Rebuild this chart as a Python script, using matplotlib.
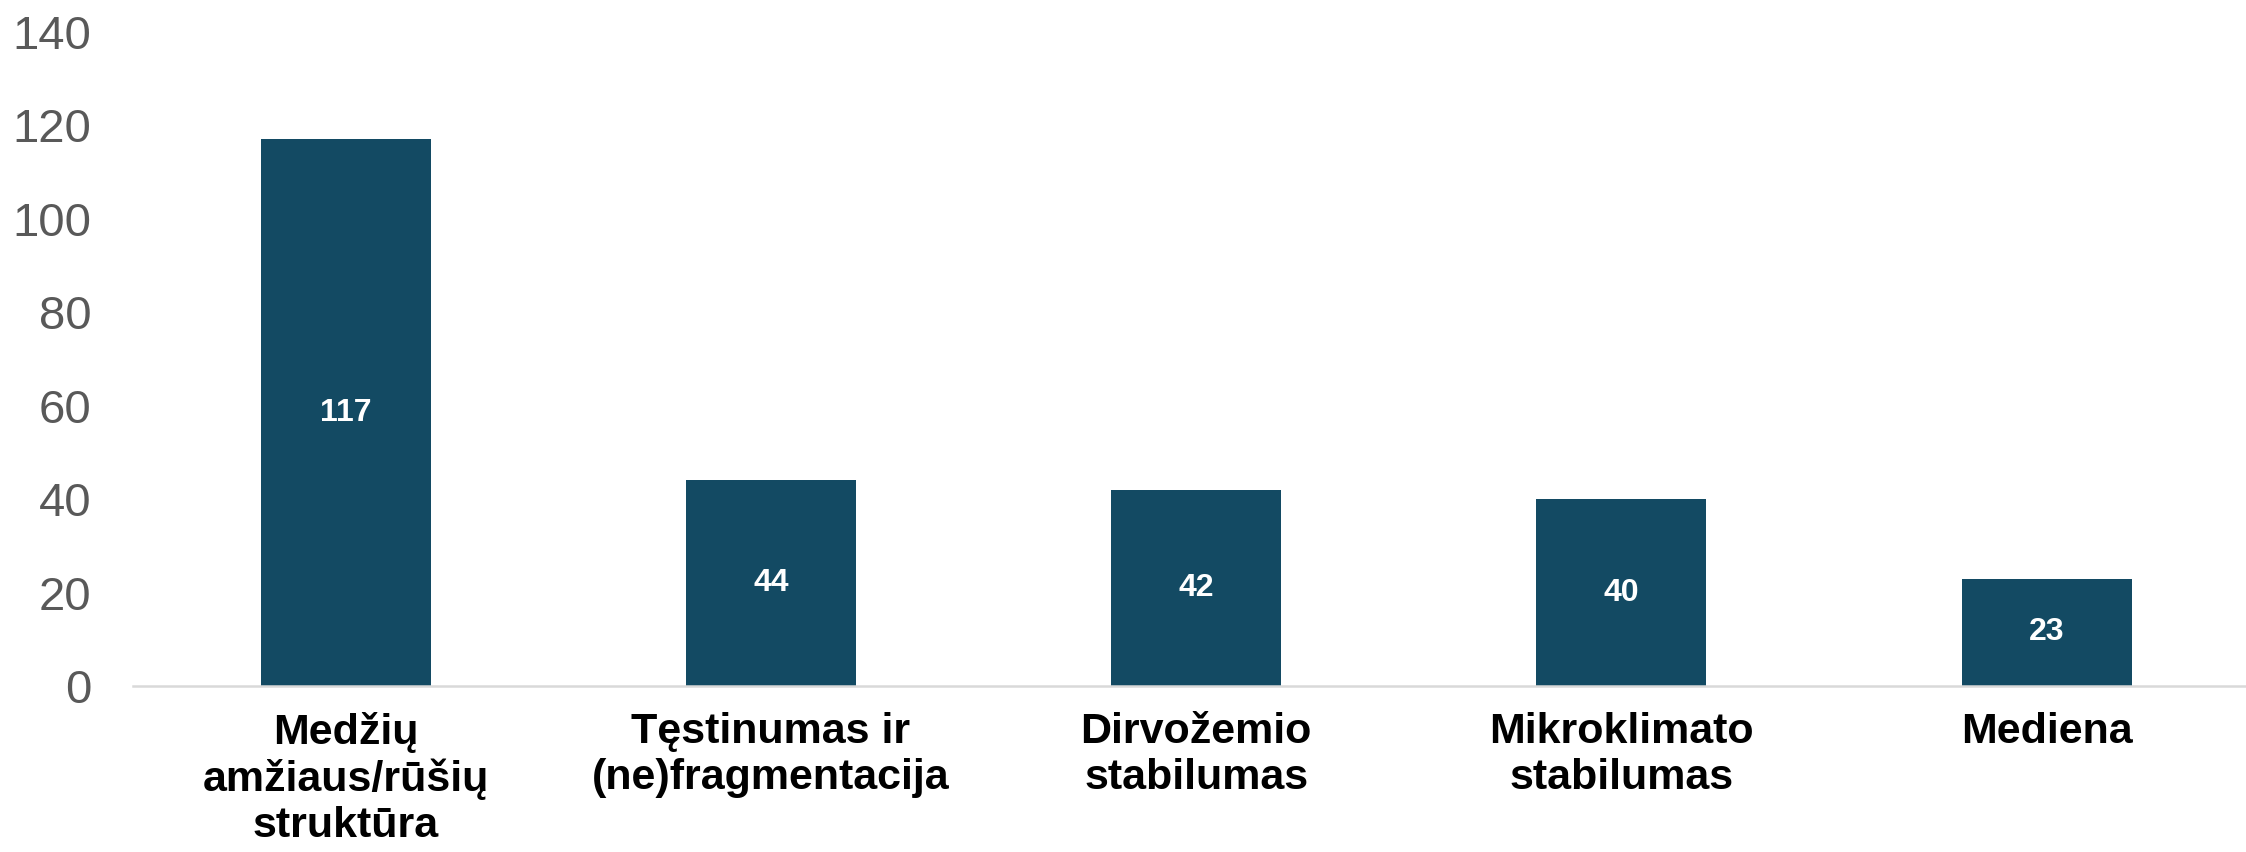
import matplotlib
matplotlib.use("Agg")
import matplotlib.pyplot as plt

categories = ["Medžių\namžiaus/rūšių\nstruktūra", "Tęstinumas ir\n(ne)fragmentacija",
              "Dirvožemio\nstabilumas", "Mikroklimato\nstabilumas", "Mediena"]
values = [117, 44, 42, 40, 23]
yticks = [0, 20, 40, 60, 80, 100, 120, 140]

plt.rcParams['font.family'] = ['Liberation Sans', 'DejaVu Sans']

fig = plt.figure(figsize=(22.46, 8.52), dpi=100)
ax = fig.add_axes([0.0592, 0.1948, 0.9467, 0.7676])
x = list(range(len(values)))
bars = ax.bar(x, values, width=0.4, color='#134A63', zorder=2)
for xi, v in zip(x, values):
    ax.text(xi, v / 2, str(v), ha='center', va='center', color='white',
            fontsize=23, fontweight='bold')

ax.set_xlim(-0.5, len(values) - 0.5)
ax.set_ylim(0, 140)
ax.set_yticks(yticks)
ax.set_yticklabels([str(t) for t in yticks], fontsize=34, color='#595959')
ax.set_xticks(x)
ax.set_xticklabels(categories, fontsize=31, fontweight='bold', color='black',
                   linespacing=1.17)
ax.tick_params(axis='y', length=0, pad=30)
ax.tick_params(axis='x', length=0, pad=19)
for s in ['top', 'right', 'left']:
    ax.spines[s].set_visible(False)
ax.spines['bottom'].set_color('#D9D9D9')
ax.spines['bottom'].set_linewidth(1.8)
ax.spines['bottom'].set_clip_on(False)

fig.savefig("out.png", dpi=100)
